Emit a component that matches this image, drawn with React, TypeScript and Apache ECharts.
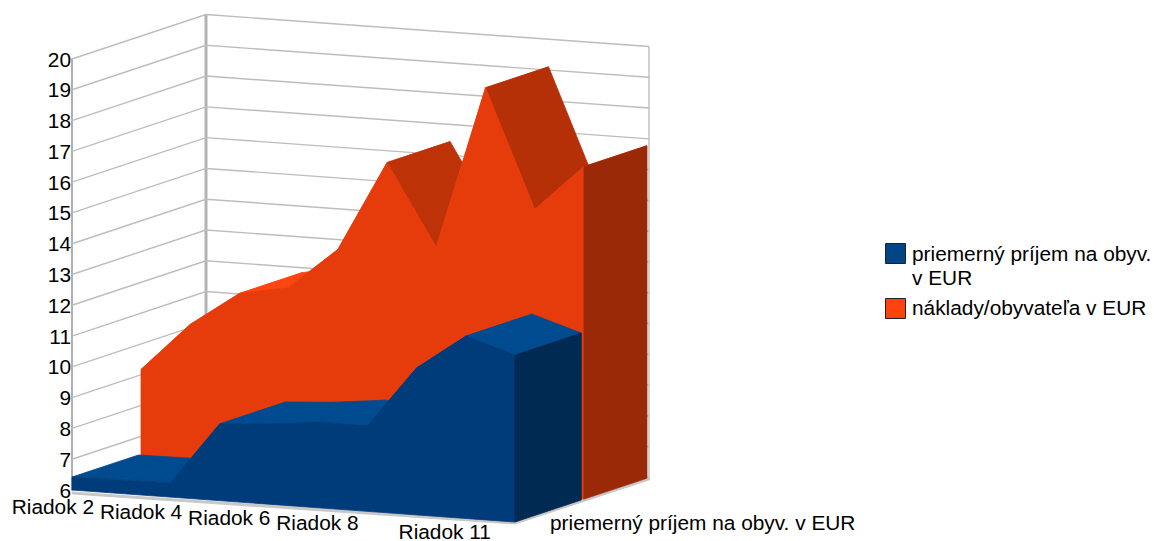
import React, { useEffect, useRef } from "react";
import * as echarts from "echarts";

const categories = ["Riadok 2", "Riadok 3", "Riadok 4", "Riadok 5", "Riadok 6", "Riadok 7", "Riadok 8", "Riadok 9", "Riadok 10", "Riadok 11"];
const incomeValues = [6.42, 6.44, 6.46, 8.49, 8.6, 8.78, 8.77, 10.77, 11.92, 11.42];
const costValues = [9.17, 10.75, 11.87, 12.18, 13.53, 16.47, 13.82, 19.13, 15.29, 16.8];
const yTicks = [6, 7, 8, 9, 10, 11, 12, 13, 14, 15, 16, 17, 18, 19, 20];
const shownRows = [2, 4, 6, 8, 11];
const incomeName = "priemerný príjem na obyv. v EUR";
const incomeLegend = "priemerný príjem na obyv.\nv EUR";
const costName = "náklady/obyvateľa v EUR";

const FONT = "'Liberation Sans', Arial, sans-serif";
const FS = 20.85;
const DX = 134;
const DY = -44.5;
const SLOPE = 32;
const last = categories.length - 1;

function projector(api: any) {
  return (k: number, v: number, d: number) => {
    const c = api.coord([k, v]);
    return [c[0] + d * DX, c[1] + (k / last) * SLOPE + d * DY];
  };
}

function solid(values: number[], d0: number, d1: number, col: any) {
  return (params: any, api: any) => {
    const p = projector(api);
    const i = params.dataIndex;
    const children: any[] = [];
    const poly = (points: number[][], fill: string) => ({
      type: "polygon",
      shape: { points },
      style: { fill, stroke: fill, lineWidth: 0.8 },
    });
    if (i < last) {
      const a = p(i, values[i], d0);
      const b = p(i + 1, values[i + 1], d0);
      const drop = b[1] - a[1];
      const fill = drop > 30 ? echarts.color.lerp(Math.min(1, (drop - 30) / 90), [col.fall, col.steep]) : col.top;
      children.push(poly([a, b, p(i + 1, values[i + 1], d1), p(i, values[i], d1)], fill));
    } else {
      const front = values.map((v, k) => p(k, v, d0));
      children.push(poly([p(0, 6, d0), ...front, p(last, 6, d0)], col.front));
      children.push(
        poly([p(last, 6, d0), p(last, values[last], d0), p(last, values[last], d1), p(last, 6, d1)], col.side)
      );
    }
    return { type: "group", children };
  };
}

function walls(params: any, api: any) {
  const p = projector(api);
  const v = yTicks[params.dataIndex];
  const children: any[] = [
    {
      type: "polyline",
      shape: { points: [p(0, v, 0), p(0, v, 1), p(last, v, 1)] },
      style: { fill: "none", stroke: "#bdbdbd", lineWidth: 1.4 },
    },
  ];
  if (params.dataIndex === 0) {
    const top = yTicks[yTicks.length - 1];
    children.push({
      type: "line",
      shape: { x1: p(0, 6, 1)[0], y1: p(0, 6, 1)[1], x2: p(0, top, 1)[0], y2: p(0, top, 1)[1] },
      style: { stroke: "#b3b3b3", lineWidth: 3 },
    });
    children.push({
      type: "line",
      shape: { x1: p(last, 6, 1)[0], y1: p(last, 6, 1)[1], x2: p(last, top, 1)[0], y2: p(last, top, 1)[1] },
      style: { stroke: "#bdbdbd", lineWidth: 1.4 },
    });
    const a = p(0, 6, 0);
    const b = p(last, 6, 0);
    const c = p(last, 6, 1);
    children.push({
      type: "polyline",
      shape: { points: [[a[0], a[1] + 3], [b[0], b[1] + 1], [c[0] + 1, c[1] + 1]] },
      style: { fill: "none", stroke: "#c8c8c8", lineWidth: 3 },
    });
  }
  return { type: "group", children };
}

const incomeColors = { top: "#004b8f", fall: "#004b8f", steep: "#004b8f", front: "#003b7a", side: "#002a52" };
const costColors = { top: "#ff4510", fall: "#c93608", steep: "#b52f07", front: "#e63c0c", side: "#9a2a07" };

export default function App() {
  const ref = useRef<HTMLDivElement>(null);
  useEffect(() => {
    const chart = echarts.init(ref.current!, null, { renderer: "svg" });
    chart.setOption({
      animation: false,
      backgroundColor: "#ffffff",
      textStyle: { fontFamily: FONT },
      grid: { left: 72, top: 59, width: 443, height: 431 },
      xAxis: { type: "category", boundaryGap: false, data: categories, show: false },
      yAxis: {
        type: "value",
        min: 6,
        max: 20,
        interval: 1,
        splitLine: { show: false },
        axisTick: { show: false },
        axisLine: { show: true, lineStyle: { color: "#b0b0b0", width: 2 } },
        axisLabel: { color: "#000000", fontSize: FS, fontFamily: FONT, margin: 1 },
      },
      series: [
        { type: "custom", silent: true, z: 1, data: yTicks.map((v) => [0, v]), renderItem: walls },
        {
          type: "custom",
          name: costName,
          silent: true,
          z: 2,
          data: costValues.map((v, k) => [k, v]),
          renderItem: solid(costValues, 0.515, 0.985, costColors),
        },
        {
          type: "custom",
          name: incomeName,
          silent: true,
          z: 3,
          data: incomeValues.map((v, k) => [k, v]),
          renderItem: solid(incomeValues, 0, 0.495, incomeColors),
        },
      ],
      graphic: [
        ...shownRows.map((row) => ({
          type: "text",
          x: 94 + (row - 2) * 44.1,
          y: 506 + (row - 2) * 2.8,
          z: 10,
          style: {
            text: "Riadok " + row,
            fill: "#000000",
            font: `${FS}px ${FONT}`,
            textAlign: "right",
            textVerticalAlign: "middle",
          },
        })),
        {
          type: "text",
          x: 550,
          y: 522,
          z: 10,
          style: { text: incomeName, fill: "#000000", font: `${FS}px ${FONT}`, textVerticalAlign: "middle" },
        },
        {
          type: "rect",
          shape: { x: 885.5, y: 243.5, width: 20, height: 20 },
          style: { fill: "#004586", stroke: "#222222", lineWidth: 1 },
        },
        {
          type: "text",
          x: 912,
          y: 241,
          style: { text: incomeLegend, fill: "#000000", font: `${FS}px ${FONT}`, lineHeight: 24 },
        },
        {
          type: "rect",
          shape: { x: 885.5, y: 298.5, width: 20, height: 20 },
          style: { fill: "#ff420e", stroke: "#222222", lineWidth: 1 },
        },
        {
          type: "text",
          x: 912,
          y: 295,
          style: { text: costName, fill: "#000000", font: `${FS}px ${FONT}`, lineHeight: 24 },
        },
      ],
    });
    return () => chart.dispose();
  }, []);
  return <div ref={ref} style={{ position: "absolute", left: 0, top: 0, width: 1154, height: 541 }} />;
}
